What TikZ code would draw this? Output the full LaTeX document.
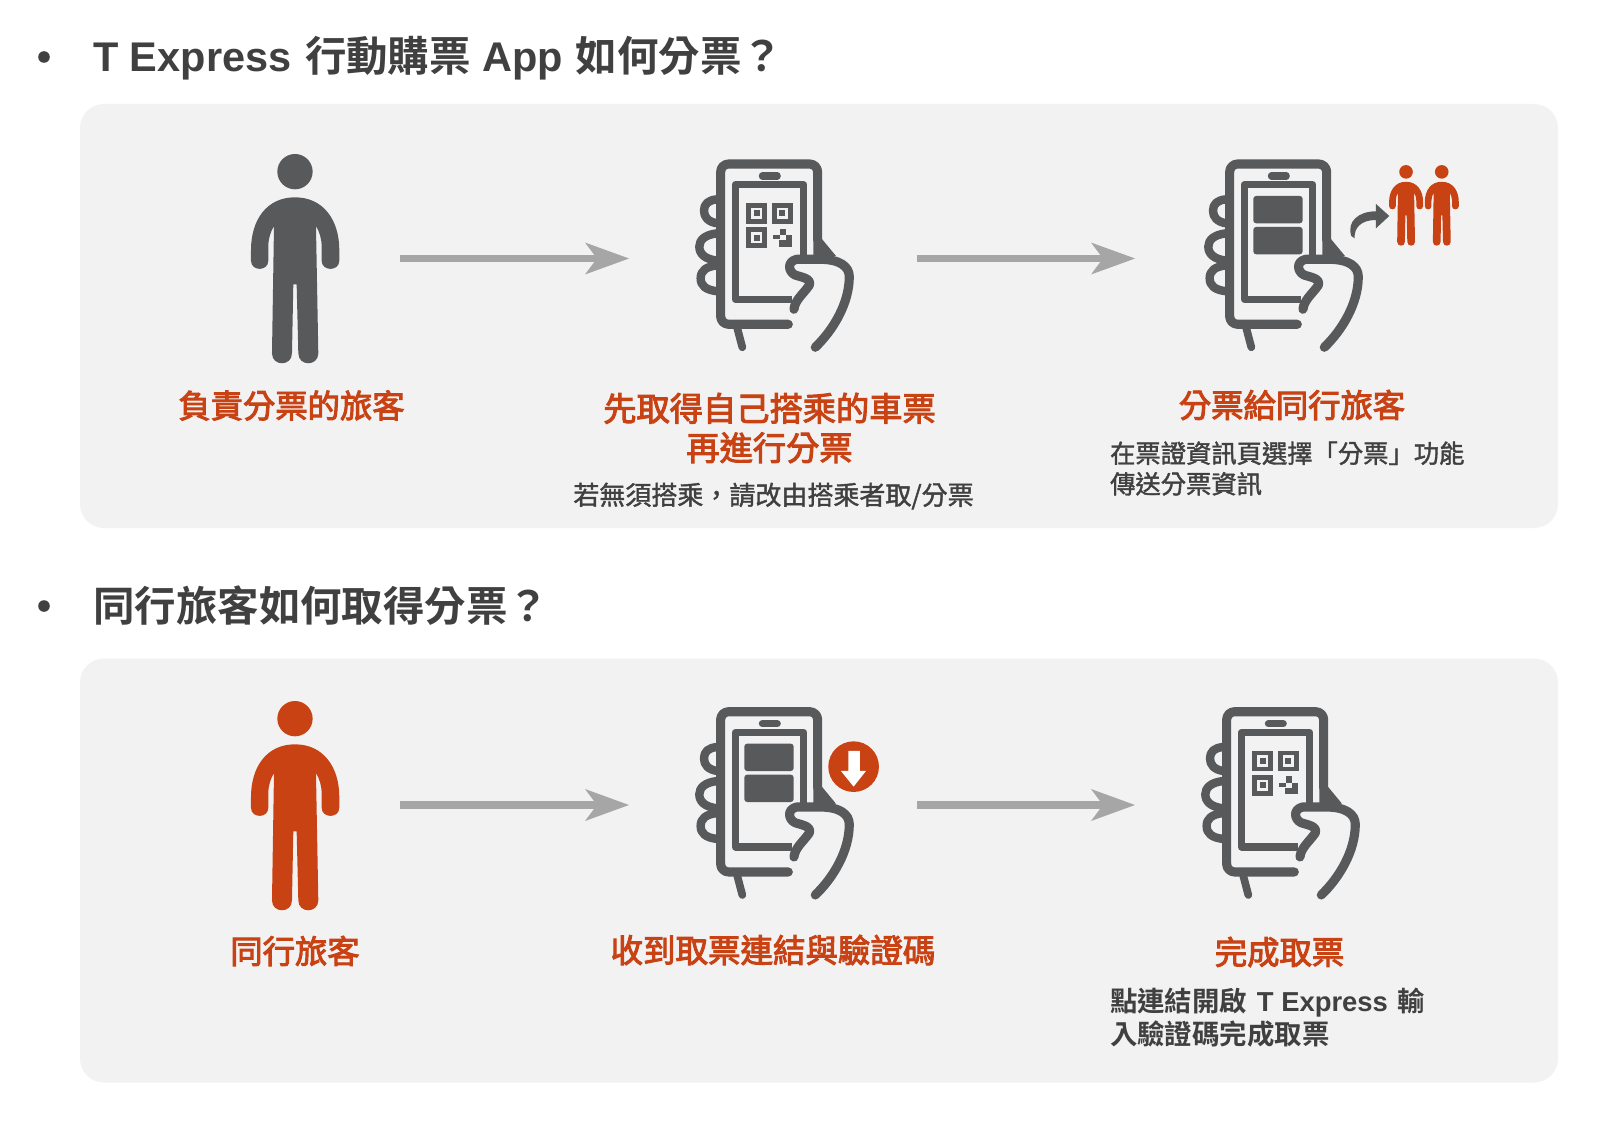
\documentclass[tikz,border=0pt]{standalone}
\usepackage{fontspec}
\usetikzlibrary{arrows.meta}
\setmainfont{Liberation Sans}
\newfontfamily\cjk[BoldFont={Noto Sans CJK TC Bold}]{Noto Sans CJK TC}
\newfontfamily\cjkred[FakeBold=3]{Noto Sans CJK TC}
\newfontfamily\cjknote[FakeBold=1.5]{Noto Sans CJK TC}
\definecolor{iconGray}{HTML}{58595B}
\definecolor{accent}{HTML}{C84214}
\definecolor{panelBg}{HTML}{F2F2F2}
\definecolor{headText}{HTML}{404040}
\definecolor{arrowGray}{HTML}{A6A6A6}
\newcommand{\Z}[1]{{\cjk #1}}
\tikzset{
  panel/.style={fill=panelBg,draw=none,rounded corners=1.2cm},
  heading/.style={anchor=west,inner sep=0pt,text=headText,font=\fontsize{59}{62}\selectfont\bfseries},
  bulletdot/.style={fill=headText,draw=none,circle,inner sep=0pt,minimum size=0.58cm},
  redlabel/.style={anchor=center,inner sep=0pt,text=accent,align=center,font=\fontsize{46}{56}\selectfont\cjkred},
  smalllabel/.style={anchor=center,inner sep=0pt,text=headText,align=center,font=\fontsize{37}{44}\selectfont\cjknote},
  notelabel/.style={anchor=west,inner sep=0pt,text=headText,align=left,font=\fontsize{36}{43.5}\selectfont\cjknote},
  flowarrow/.style={draw=arrowGray,line width=10pt,-{Stealth[length=62.6pt,width=45.5pt,inset=17pt,line width=0pt]}},
  phonestroke/.style={draw=iconGray,line cap=round,line join=round,fill=none},
  zoomunits/.style={x=0.016667cm,y=-0.016667cm},
  pics/phone/.style={code={
    \begin{scope}[zoomunits]
      % body
      \draw[phonestroke,line width=13pt,rounded corners=0.4cm] (413,300) -- (413,72) -- (122,72) -- (122,553) -- (325,553);
      \draw[phonestroke,line width=11pt] (172,565) -- (187,622);
      % speaker
      \draw[phonestroke,line width=10pt] (247,108) -- (292,108);
      % screen
      \draw[phonestroke,line width=10pt,line cap=butt] (372,345) -- (372,134) -- (166,134) -- (166,478) -- (335,478);
      % fingers
      \draw[phonestroke,line width=12pt] (112,178) .. controls (85,180) and (72,192) .. (72,212) .. controls (72,232) and (85,246) .. (112,250);
      \draw[phonestroke,line width=12pt] (112,280) .. controls (75,284) and (58,300) .. (58,320) .. controls (58,342) and (75,358) .. (112,362);
      \draw[phonestroke,line width=12pt] (112,376) .. controls (78,380) and (62,392) .. (62,415) .. controls (62,438) and (78,450) .. (112,454);
      % hand
      \fill[iconGray] (425,296) -- (468,348) -- (400,352) -- (400,300) -- cycle;
      \draw[phonestroke,line width=13pt] (342,508) .. controls (345,480) and (370,462) .. (388,436) .. controls (395,415) and (365,412) .. (345,405) .. controls (325,395) and (320,365) .. (350,358) -- (420,358) .. controls (480,358) and (508,380) .. (508,410) .. controls (508,490) and (460,570) .. (406,622);
    \end{scope}
  }},
  pics/qrcode/.style={code={
    \begin{scope}[zoomunits]
      \foreach \qx/\qy in {200/190,277/190,200/263}{
        \draw[iconGray,line width=6.5pt] (\qx+6,\qy+6) rectangle (\qx+54,\qy+54);
        \fill[iconGray] (\qx+21,\qy+21) rectangle (\qx+39,\qy+39);
      }
      \fill[iconGray] (280,285) rectangle (300,298);
      \fill[iconGray] (300,266) rectangle (318,285);
      \fill[iconGray] (318,285) rectangle (335,320);
      \fill[iconGray] (298,300) rectangle (335,320);
    \end{scope}
  }},
  pics/panes/.style={code={
    \begin{scope}[zoomunits]
      \fill[iconGray,rounded corners=4pt] (193,168) rectangle (341,250);
      \fill[iconGray,rounded corners=4pt] (193,261) rectangle (341,343);
    \end{scope}
  }},
  pics/person/.style={code={
    \begin{scope}[zoomunits]
      \fill[#1] (195,95) circle[radius=53];
      \fill[#1] (195,172) .. controls (280,172) and (328,240) .. (328,330) -- (328,362) .. controls (328,395) and (275,395) .. (275,362) -- (275,320) .. controls (275,295) and (268,275) .. (258,258) -- (265,640) .. controls (265,680) and (205,680) .. (205,640) -- (200,433) -- (190,433) -- (186,640) .. controls (186,680) and (126,680) .. (126,640) -- (132,258) .. controls (122,275) and (115,295) .. (115,320) -- (115,362) .. controls (115,395) and (63,395) .. (63,362) -- (63,330) .. controls (63,240) and (110,172) .. (195,172) -- cycle;
    \end{scope}
  }}
}
\begin{document}
\begin{tikzpicture}[x=0.05cm,y=-0.05cm]
\useasboundingbox (0,0) rectangle (1606,1125);
\fill[white] (0,0) rectangle (1606,1125);

% panels
\fill[panel] (80,104) rectangle (1558,528);
\fill[panel] (80,658.5) rectangle (1558,1082.5);

% headings
\node[bulletdot] (bulletA) at (44,57) {};
\node[heading] (headA) at (93,58) {T Express\hspace{3pt} \Z{行動購票} App\hspace{1.5pt} \Z{如何分票？}};
\node[bulletdot] (bulletB) at (44,606) {};
\node[heading] (headB) at (93,605.5) {\Z{同行旅客如何取得分票？}};

% icons row 1
\pic (p1) at (230,140) {person=iconGray};
\pic (ph1) at (680,140) {phone};
\pic (q1) at (680,140) {qrcode};
\pic (ph2) at (1189,140) {phone};
\pic (s2) at (1189,140) {panes};
\pic[scale=0.385] (m1) at (1381,159.7) {person=accent};
\pic[scale=0.385] (m2) at (1416.7,159.7) {person=accent};
\begin{scope}[shift={(1190,140)},zoomunits]
  \fill[iconGray] (494,295) .. controls (492,262) and (515,240) .. (558,240) -- (558,265) -- (598,228) -- (558,192) -- (558,214) .. controls (505,214) and (470,245) .. (484,288) -- cycle;
\end{scope}

% icons row 2
\pic (p2) at (230,687) {person=accent};
\pic (ph3) at (680,687.7) {phone};
\pic (s3) at (680,687.7) {panes};
\begin{scope}[shift={(680,695)},zoomunits]
  \fill[accent] (521,215) circle[radius=76];
  \fill[white] (505,168) -- (540,168) -- (540,228) -- (558,228) -- (521,275) -- (483,228) -- (505,228) -- cycle;
\end{scope}
\pic (ph4) at (1186,687.7) {phone};
\pic (q4) at (1186,687.7) {qrcode};

% flow arrows
\coordinate (a1s) at (400,258.5); \coordinate (a1e) at (629,258.5);
\coordinate (a2s) at (917,258.5); \coordinate (a2e) at (1135,258.5);
\coordinate (a3s) at (400,805); \coordinate (a3e) at (629,805);
\coordinate (a4s) at (917,805); \coordinate (a4e) at (1135,805);
\draw[flowarrow] (a1s) -- (a1e);
\draw[flowarrow] (a2s) -- (a2e);
\draw[flowarrow] (a3s) -- (a3e);
\draw[flowarrow] (a4s) -- (a4e);

% labels row 1
\node[redlabel] (l1) at (291.5,405.5) {負責分票的旅客};
\node[redlabel,font=\fontsize{47.3}{56}\selectfont\cjkred] (l2) at (769.5,428) {先取得自己搭乘的車票\\再進行分票};
\node[smalllabel] (l2n) at (773.5,496) {若無須搭乘，請改由搭乘者取/分票};
\node[redlabel] (l3) at (1292,405) {分票給同行旅客};
\node[notelabel] (l3n) at (1110,468.5) {在票證資訊頁選擇「分票」功能\\傳送分票資訊};

% labels row 2
\node[redlabel] (l4) at (295,951) {同行旅客};
\node[redlabel,font=\fontsize{46.2}{56}\selectfont\cjkred] (l5) at (773,950) {收到取票連結與驗證碼};
\node[redlabel] (l6) at (1279.5,952) {完成取票};
\node[notelabel,font=\fontsize{39}{47}\selectfont\cjk\bfseries] (l6n) at (1110,1017.5) {點連結開啟\hspace{5pt} {\rmfamily\bfseries T Express}\hspace{5pt} 輸\\入驗證碼完成取票};
\end{tikzpicture}
\end{document}
